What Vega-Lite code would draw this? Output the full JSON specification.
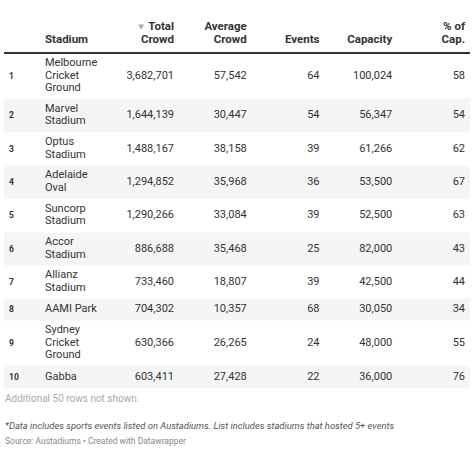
{
  "$schema": "https://vega.github.io/schema/vega-lite/v6.json",
  "width": 466,
  "height": 450,
  "autosize": {"type": "none"},
  "padding": {"left": 4, "right": 4, "top": 0, "bottom": 0},
  "background": "white",
  "config": {"view": {"stroke": null}, "text": {"font": "Roboto", "color": "#333333"}},
  "datasets": {
    "stadiums": [
      {"rank": 1, "stadium": "Melbourne\nCricket\nGround", "total": 3682701, "average": 57542, "events": 64, "capacity": 100024, "pct": 58},
      {"rank": 2, "stadium": "Marvel\nStadium", "total": 1644139, "average": 30447, "events": 54, "capacity": 56347, "pct": 54},
      {"rank": 3, "stadium": "Optus\nStadium", "total": 1488167, "average": 38158, "events": 39, "capacity": 61266, "pct": 62},
      {"rank": 4, "stadium": "Adelaide\nOval", "total": 1294852, "average": 35968, "events": 36, "capacity": 53500, "pct": 67},
      {"rank": 5, "stadium": "Suncorp\nStadium", "total": 1290266, "average": 33084, "events": 39, "capacity": 52500, "pct": 63},
      {"rank": 6, "stadium": "Accor\nStadium", "total": 886688, "average": 35468, "events": 25, "capacity": 82000, "pct": 43},
      {"rank": 7, "stadium": "Allianz\nStadium", "total": 733460, "average": 18807, "events": 39, "capacity": 42500, "pct": 44},
      {"rank": 8, "stadium": "AAMI Park", "total": 704302, "average": 10357, "events": 68, "capacity": 30050, "pct": 34},
      {"rank": 9, "stadium": "Sydney\nCricket\nGround", "total": 630366, "average": 26265, "events": 24, "capacity": 48000, "pct": 55},
      {"rank": 10, "stadium": "Gabba", "total": 603411, "average": 27428, "events": 22, "capacity": 36000, "pct": 76}
    ],
    "headers": [
      {"key": "total", "label": "Total\nCrowd"},
      {"key": "average", "label": "Average\nCrowd"},
      {"key": "events", "label": "Events"},
      {"key": "capacity", "label": "Capacity"},
      {"key": "pct", "label": "% of\nCap."}
    ]
  },
  "resolve": {"scale": {"x": "independent"}},
  "layer": [
    {
      "data": {"name": "stadiums"},
      "transform": [{"filter": "datum.rank % 2 == 0"}],
      "mark": {"type": "rect", "color": "#f5f5f5"},
      "encoding": {
        "y": {"field": "rank", "type": "quantitative", "bin": {"step": 1, "extent": [1, 11]}, "axis": null,
          "scale": {"domain": [1, 2, 3, 4, 5, 6, 7, 8, 9, 10, 11, 12, 13, 14], "range": [53, 98, 132, 165, 198, 232, 265, 298, 320, 365, 388, 399, 426, 441], "nice": false, "zero": false}}
      }
    },
    {
      "data": {"values": [{}]},
      "mark": {"type": "rule", "color": "#333333", "strokeWidth": 2},
      "encoding": {"y": {"datum": 1, "type": "quantitative"}}
    },
    {
      "data": {"values": [{"col": "Stadium", "label": "Stadium"}]},
      "mark": {"type": "text", "align": "left", "baseline": "bottom", "dy": -8, "fontWeight": "bold", "fontSize": 11.5},
      "encoding": {
        "x": {"field": "col", "type": "nominal", "axis": null, "scale": {"type": "point", "domain": ["rank", "Stadium"], "range": [5, 41], "padding": 0}},
        "y": {"datum": 1, "type": "quantitative"},
        "text": {"field": "label"}
      }
    },
    {
      "data": {"name": "headers"},
      "mark": {"type": "text", "align": "right", "baseline": "bottom", "dy": {"expr": "-8 - (length(split(datum.label, '\\n')) - 1) * 13.5"}, "fontWeight": "bold", "fontSize": 11.5, "lineBreak": "\n", "lineHeight": 13.5},
      "encoding": {
        "x": {"field": "key", "type": "nominal", "axis": null, "scale": {"type": "point", "domain": ["total", "average", "events", "capacity", "pct"], "range": [170, 461], "padding": 0}},
        "y": {"datum": 1, "type": "quantitative"},
        "text": {"field": "label"}
      }
    },
    {
      "data": {"values": [{"key": "total", "arrow": "▼"}]},
      "mark": {"type": "text", "align": "right", "baseline": "bottom", "dy": -23, "dx": -30, "fontSize": 7, "color": "#aaaaaa", "font": "DejaVu Sans"},
      "encoding": {
        "x": {"field": "key", "type": "nominal", "axis": null, "scale": {"type": "point", "domain": ["total", "average", "events", "capacity", "pct"], "range": [170, 461], "padding": 0}},
        "y": {"datum": 1, "type": "quantitative"},
        "text": {"field": "arrow"}
      }
    },
    {
      "data": {"name": "stadiums"},
      "mark": {"type": "text", "align": "left", "baseline": "middle", "fontWeight": "bold", "fontSize": 8.5},
      "encoding": {
        "x": {"datum": "rank", "type": "nominal", "axis": null, "scale": {"type": "point", "domain": ["rank", "Stadium"], "range": [5, 41], "padding": 0}},
        "y": {"field": "rank", "type": "quantitative", "bin": {"step": 1, "extent": [1, 11]}},
        "text": {"field": "rank", "type": "quantitative"}
      }
    },
    {
      "data": {"name": "stadiums"},
      "mark": {"type": "text", "align": "left", "baseline": "middle", "fontSize": 11, "lineBreak": "\n", "lineHeight": 12.5, "dy": {"expr": "-(length(split(datum.stadium, '\\n')) - 1) * 6.25"}},
      "encoding": {
        "x": {"datum": "Stadium", "type": "nominal", "axis": null, "scale": {"type": "point", "domain": ["rank", "Stadium"], "range": [5, 41], "padding": 0}},
        "y": {"field": "rank", "type": "quantitative", "bin": {"step": 1, "extent": [1, 11]}},
        "text": {"field": "stadium"}
      }
    },
    {
      "data": {"name": "stadiums"},
      "transform": [{"fold": ["total", "average", "events", "capacity", "pct"], "as": ["key", "value"]}],
      "mark": {"type": "text", "align": "right", "baseline": "middle", "fontSize": 11},
      "encoding": {
        "x": {"field": "key", "type": "nominal", "axis": null, "scale": {"type": "point", "domain": ["total", "average", "events", "capacity", "pct"], "range": [170, 461], "padding": 0}},
        "y": {"field": "rank", "type": "quantitative", "bin": {"step": 1, "extent": [1, 11]}},
        "text": {"field": "value", "type": "quantitative", "format": ","}
      }
    },
    {
      "data": {"values": [{"note": "Additional 50 rows not shown."}]},
      "mark": {"type": "text", "align": "left", "baseline": "middle", "fontSize": 10, "color": "#aaaaaa", "dx": -4},
      "encoding": {
        "x": {"datum": "rank", "type": "nominal", "axis": null, "scale": {"type": "point", "domain": ["rank", "Stadium"], "range": [5, 41], "padding": 0}},
        "y": {"datum": 12, "type": "quantitative"},
        "text": {"field": "note"}
      }
    },
    {
      "data": {"values": [{"note": "*Data includes sports events listed on Austadiums. List includes stadiums that hosted 5+ events"}]},
      "mark": {"type": "text", "align": "left", "baseline": "middle", "fontSize": 9.4, "fontStyle": "italic", "color": "#555555", "dx": -4},
      "encoding": {
        "x": {"datum": "rank", "type": "nominal", "axis": null, "scale": {"type": "point", "domain": ["rank", "Stadium"], "range": [5, 41], "padding": 0}},
        "y": {"datum": 13, "type": "quantitative"},
        "text": {"field": "note"}
      }
    },
    {
      "data": {"values": [{"note": "Source: Austadiums • Created with Datawrapper"}]},
      "mark": {"type": "text", "align": "left", "baseline": "middle", "fontSize": 8.5, "color": "#888888", "dx": -4},
      "encoding": {
        "x": {"datum": "rank", "type": "nominal", "axis": null, "scale": {"type": "point", "domain": ["rank", "Stadium"], "range": [5, 41], "padding": 0}},
        "y": {"datum": 14, "type": "quantitative"},
        "text": {"field": "note"}
      }
    }
  ]
}
